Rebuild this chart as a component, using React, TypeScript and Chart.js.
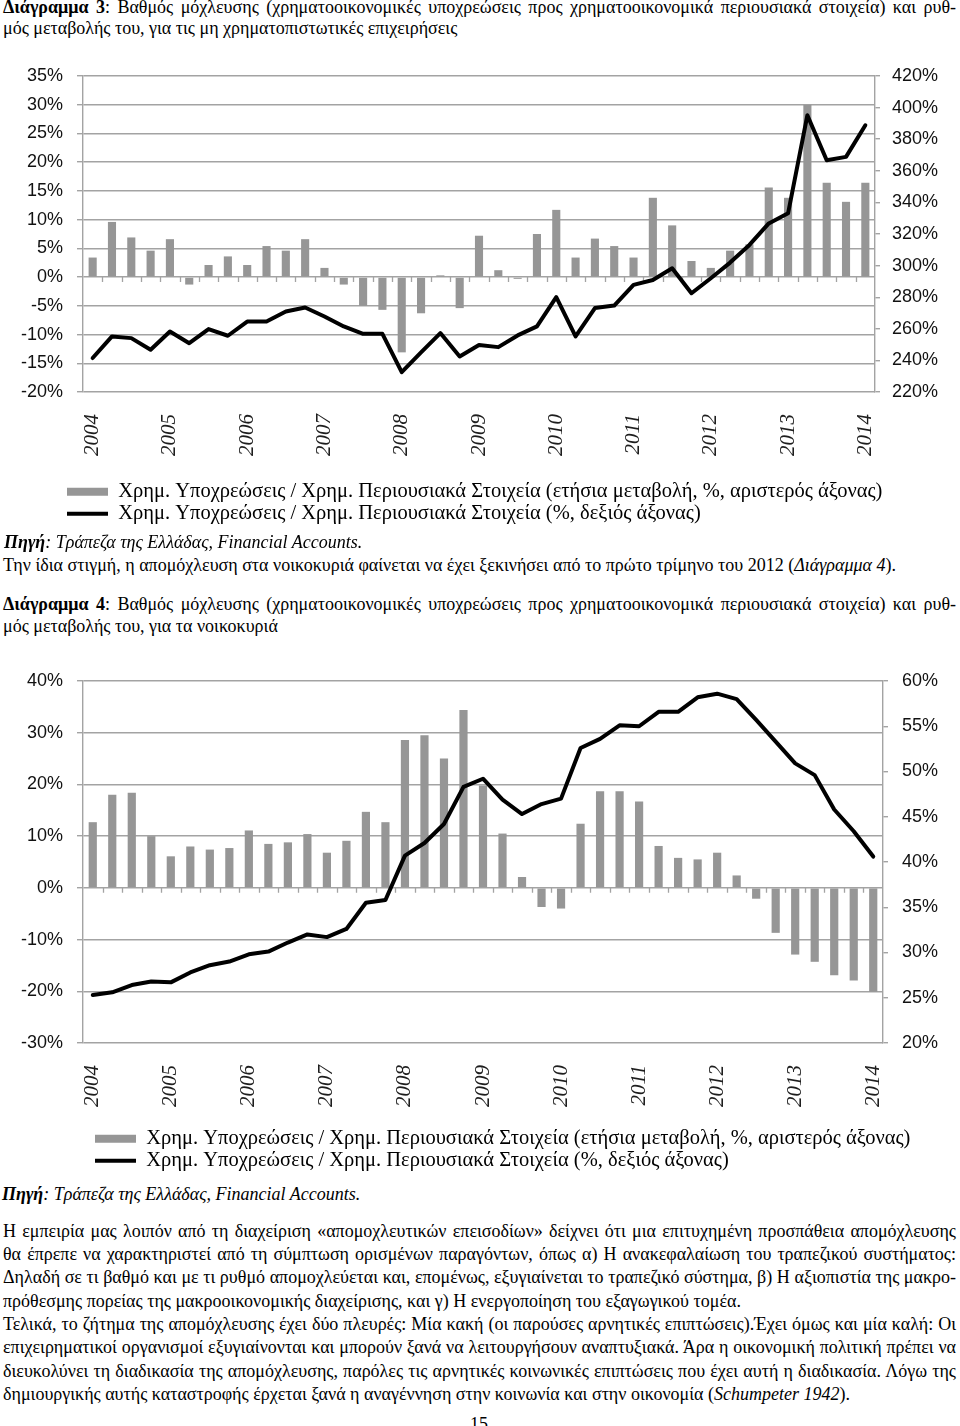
import React, { useEffect, useLayoutEffect, useRef } from 'react';
import { Chart, registerables } from 'chart.js';

Chart.register(...registerables);

// ---------- data ----------
const years = ['2004', '2005', '2006', '2007', '2008', '2009', '2010', '2011', '2012', '2013', '2014'];
const quarterNames = ['Q1', 'Q2', 'Q3', 'Q4'];
const quarterLabels = years.flatMap((y) => quarterNames.map((q) => `${y} ${q}`)).slice(0, 41);

// Διάγραμμα 3: μη χρηματοπιστωτικές επιχειρήσεις
const firmsChange = [3.4, 9.6, 6.9, 4.6, 6.6, -1.3, 2.1, 3.6, 2.1, 5.4, 4.6, 6.6, 1.6, -1.3, -5.0, -5.7, -13.1, -6.3, 0.3, -5.4,
  7.2, 1.2, -0.3, 7.5, 11.7, 3.4, 6.7, 5.4, 3.4, 13.8, 9.0, 2.8, 1.6, 4.6, 5.7, 15.6, 13.8, 30.0, 16.4, 13.1, 16.4];
const firmsLevel = [241.5, 255.2, 254.1, 246.7, 258.3, 250.9, 259.8, 255.6, 264.6, 264.6, 270.9, 273.5, 267.8, 261.5, 256.8, 256.8,
  232.6, 245.1, 257.3, 242.5, 249.7, 248.4, 255.8, 261.5, 280.0, 255.2, 273.1, 274.7, 287.8, 290.9, 298.3, 282.5, 292.0, 301.9,
  313.1, 326.7, 333.1, 395.2, 366.7, 368.8, 388.8];

// Διάγραμμα 4: νοικοκυριά
const householdsChange = [12.7, 18.0, 18.4, 10.0, 6.1, 8.0, 7.4, 7.7, 11.1, 8.5, 8.8, 10.4, 6.8, 9.1, 14.7, 12.7, 28.6, 29.5, 25.0, 34.4,
  19.8, 10.5, 2.1, -3.7, -4.0, 12.4, 18.7, 18.7, 16.7, 8.1, 5.8, 5.5, 6.8, 2.4, -2.1, -8.7, -12.9, -14.3, -16.9, -17.9, -20.1];
const householdsLevel = [25.3, 25.6, 26.4, 26.8, 26.7, 27.8, 28.6, 29.0, 29.8, 30.1, 31.1, 32.0, 31.7, 32.6, 35.5, 35.8, 40.7, 42.1,
  44.2, 48.3, 49.2, 46.9, 45.3, 46.4, 47.0, 52.6, 53.6, 55.1, 55.0, 56.6, 56.6, 58.2, 58.6, 58.0, 55.7, 53.3, 50.9, 49.6, 45.8,
  43.4, 40.6];

const legendBarLabel = 'Χρημ. Υποχρεώσεις / Χρημ. Περιουσιακά Στοιχεία (ετήσια μεταβολή, %, αριστερός άξονας)';
const legendLineLabel = 'Χρημ. Υποχρεώσεις / Χρημ. Περιουσιακά Στοιχεία (%, δεξιός άξονας)';

// axis ranges [min, max, step]
const firmsLeftAxis = [-20, 35, 5];
const firmsRightAxis = [220, 420, 20];
const householdsLeftAxis = [-30, 40, 10];
const householdsRightAxis = [20, 60, 5];

// ---------- styles ----------
const GRID = '#a3a3a3';
const BAR = '#969696';
const SERIF = '"Liberation Serif", "Times New Roman", serif';
const SANS = '"Liberation Sans", Arial, sans-serif';
const TEXT_SIZE = 18;
const LINE_W = 4;

const pagePlugin = {
  id: 'pageTweaks',
  afterLayout(chart: any, _args: any, opts: any) {
    const lg = chart.legend;
    if (lg && opts && opts.legendX != null) {
      const pad = lg.options.labels.padding;
      const dx = opts.legendX - pad - lg.left;
      lg.left += dx;
      lg.right += dx;
    }
  },
  beforeDatasetsDraw(chart: any, _args: any, opts: any) {
    const x = chart.scales.x;
    const y = chart.scales.y;
    const y0 = y.getPixelForValue(0);
    const ctx = chart.ctx;
    ctx.save();
    ctx.strokeStyle = (opts && opts.tickColor) || GRID;
    ctx.lineWidth = 1.3;
    ctx.beginPath();
    for (let i = 1; i < x.ticks.length; i++) {
      const px = Math.round((x.getPixelForValue(i - 1) + x.getPixelForValue(i)) / 2) + 0.5;
      ctx.moveTo(px, y0);
      ctx.lineTo(px, y0 + 5);
    }
    ctx.stroke();
    ctx.restore();
  },
};

type ComboProps = {
  top: number;
  height: number;
  bars: number[];
  line: number[];
  leftAxis: number[];
  rightAxis: number[];
  rightWidth: number;
  rightPad: number;
  xHeight: number;
  legendX: number;
};

function ComboChart(p: ComboProps) {
  const ref = useRef<HTMLCanvasElement>(null);
  useEffect(() => {
    const pct = (v: any) => `${v}%`;
    const tickFont = { family: SANS, size: 18 };
    const chart = new Chart(ref.current as HTMLCanvasElement, {
      type: 'bar',
      data: {
        labels: quarterLabels,
        datasets: [
          {
            type: 'bar',
            label: legendBarLabel,
            data: p.bars,
            backgroundColor: BAR,
            borderWidth: 0,
            barPercentage: 0.42,
            categoryPercentage: 1,
            yAxisID: 'y',
            order: 1,
            pointStyle: 'rect',
          } as any,
          {
            type: 'line',
            label: legendLineLabel,
            data: p.line,
            borderColor: '#000',
            backgroundColor: '#000',
            borderWidth: LINE_W,
            pointRadius: 0,
            tension: 0,
            yAxisID: 'y2',
            order: 0,
            pointStyle: 'line',
            borderJoinStyle: 'round',
            borderCapStyle: 'round',
          } as any,
        ],
      },
      options: {
        responsive: false,
        animation: false,
        layout: { padding: { top: 26, left: 0, right: 0, bottom: 0 } },
        plugins: {
          tooltip: { enabled: false },
          legend: {
            position: 'bottom',
            align: 'start',
            labels: {
              usePointStyle: true,
              pointStyleWidth: 41,
              boxHeight: 8,
              padding: 1.5,
              color: '#000',
              font: { family: SERIF, size: 20.5 },
              generateLabels: (chart: any) => {
                const items = (Chart.defaults.plugins.legend.labels as any).generateLabels(chart);
                return items
                  .sort((a: any, b: any) => a.datasetIndex - b.datasetIndex)
                  .map((it: any) => ({
                    ...it,
                    pointStyle: it.datasetIndex === 0 ? 'rect' : 'line',
                    lineWidth: it.datasetIndex === 0 ? 0 : LINE_W,
                    fontColor: '#000',
                  }));
              },
            },
          },
          pageTweaks: { legendX: p.legendX, tickColor: GRID },
        } as any,
        scales: {
          x: {
            grid: { display: false, drawTicks: false },
            border: { display: false },
            ticks: {
              autoSkip: false,
              minRotation: 90,
              maxRotation: 90,
              padding: 22,
              color: '#1e1e1e',
              font: { family: SERIF, size: 21, style: 'italic' },
              callback: (_v: any, i: number) => (i % 4 === 0 ? years[i / 4] : ''),
            },
            afterFit: (s: any) => {
              s.height = p.xHeight;
            },
          },
          y: {
            position: 'left',
            min: p.leftAxis[0],
            max: p.leftAxis[1],
            ticks: { stepSize: p.leftAxis[2], callback: pct, padding: 14, color: '#111', font: tickFont },
            grid: { color: GRID, lineWidth: 1.4, tickLength: 6 },
            border: { display: true, color: GRID, width: 1.4 },
            afterFit: (s: any) => {
              s.width = 83;
            },
          },
          y2: {
            position: 'right',
            min: p.rightAxis[0],
            max: p.rightAxis[1],
            ticks: { stepSize: p.rightAxis[2], callback: pct, padding: p.rightPad, color: '#111', font: tickFont },
            grid: { drawOnChartArea: false, color: GRID, lineWidth: 1.4, tickLength: 5 },
            border: { display: true, color: GRID, width: 1.4 },
            afterFit: (s: any) => {
              s.width = p.rightWidth;
            },
          },
        },
      } as any,
      plugins: [pagePlugin as any],
    });
    return () => chart.destroy();
  }, []);
  return (
    <canvas
      ref={ref}
      width={960}
      height={p.height}
      style={{ position: 'absolute', left: 0, top: p.top, width: 960, height: p.height }}
    />
  );
}

type LineProps = {
  baseline: number;
  justify?: boolean;
  left?: number;
  width?: number;
  size?: number;
  children: React.ReactNode;
  style?: React.CSSProperties;
};

function TextLine({ baseline, justify = false, left = 3, width = 953, size = TEXT_SIZE, children, style }: LineProps) {
  const ref = useRef<HTMLSpanElement>(null);
  useLayoutEffect(() => {
    const el = ref.current;
    if (!el || !justify) return;
    el.style.wordSpacing = '0px';
    const natural = el.getBoundingClientRect().width;
    const spaces = ((el.textContent || '').match(/ /g) || []).length;
    if (spaces > 0) el.style.wordSpacing = `${(width - natural) / spaces}px`;
  });
  return (
    <div
      style={{
        position: 'absolute',
        left,
        top: baseline - 0.8375 * size,
        fontSize: size,
        lineHeight: `${size}px`,
        whiteSpace: 'nowrap',
        fontFamily: SERIF,
        color: '#000',
        ...style,
      }}
    >
      <span ref={ref}>{children}</span>
    </div>
  );
}

export default function App() {
  return (
    <div
      style={{
        position: 'absolute',
        left: 0,
        top: 0,
        width: 960,
        height: 1426,
        overflow: 'hidden',
        background: '#fff',
      }}
    >
      <TextLine baseline={13} justify>
        <b>Διάγραμμα 3</b>: Βαθμός μόχλευσης (χρηματοοικονομικές υποχρεώσεις προς χρηματοοικονομικά περιουσιακά στοιχεία) και ρυθ-
      </TextLine>
      <TextLine baseline={34}>μός μεταβολής του, για τις μη χρηματοπιστωτικές επιχειρήσεις</TextLine>

      <ComboChart
        top={50}
        height={484}
        bars={firmsChange}
        line={firmsLevel}
        leftAxis={firmsLeftAxis}
        rightAxis={firmsRightAxis}
        rightWidth={85}
        rightPad={12}
        xHeight={88}
        legendX={67}
      />

      <TextLine baseline={548} left={4}>
        <i>
          <b>Πηγή</b>: Τράπεζα της Ελλάδας, Financial Accounts.
        </i>
      </TextLine>
      <TextLine baseline={571}>
        Την ίδια στιγμή, η απομόχλευση στα νοικοκυριά φαίνεται να έχει ξεκινήσει από το πρώτο τρίμηνο του 2012 (<i>Διάγραμμα 4</i>).
      </TextLine>

      <TextLine baseline={610} justify>
        <b>Διάγραμμα 4</b>: Βαθμός μόχλευσης (χρηματοοικονομικές υποχρεώσεις προς χρηματοοικονομικά περιουσιακά στοιχεία) και ρυθ-
      </TextLine>
      <TextLine baseline={632}>μός μεταβολής του, για τα νοικοκυριά</TextLine>

      <ComboChart
        top={655}
        height={526}
        bars={householdsChange}
        line={householdsLevel}
        leftAxis={householdsLeftAxis}
        rightAxis={householdsRightAxis}
        rightWidth={77}
        rightPad={14}
        xHeight={84}
        legendX={95}
      />

      <TextLine baseline={1200} left={2}>
        <i>
          <b>Πηγή</b>: Τράπεζα της Ελλάδας, Financial Accounts.
        </i>
      </TextLine>

      <TextLine baseline={1237} justify>
        Η εμπειρία μας λοιπόν από τη διαχείριση «απομοχλευτικών επεισοδίων» δείχνει ότι μια επιτυχημένη προσπάθεια απομόχλευσης
      </TextLine>
      <TextLine baseline={1260} justify>
        θα έπρεπε να χαρακτηριστεί από τη σύμπτωση ορισμένων παραγόντων, όπως α) Η ανακεφαλαίωση του τραπεζικού συστήματος:
      </TextLine>
      <TextLine baseline={1283} justify>
        Δηλαδή σε τι βαθμό και με τι ρυθμό απομοχλεύεται και, επομένως, εξυγιαίνεται το τραπεζικό σύστημα, β) Η αξιοπιστία της μακρο-
      </TextLine>
      <TextLine baseline={1307}>
        πρόθεσμης πορείας της μακροοικονομικής διαχείρισης, και γ) Η ενεργοποίηση του εξαγωγικού τομέα.
      </TextLine>
      <TextLine baseline={1330} justify>
        Τελικά, το ζήτημα της απομόχλευσης έχει δύο πλευρές: Μία κακή (οι παρούσες αρνητικές επιπτώσεις).Έχει όμως και μία καλή: Οι
      </TextLine>
      <TextLine baseline={1353} justify>
        επιχειρηματικοί οργανισμοί εξυγιαίνονται και μπορούν ξανά να λειτουργήσουν αναπτυξιακά. Άρα η οικονομική πολιτική πρέπει να
      </TextLine>
      <TextLine baseline={1377} justify>
        διευκολύνει τη διαδικασία της απομόχλευσης, παρόλες τις αρνητικές κοινωνικές επιπτώσεις που έχει αυτή η διαδικασία. Λόγω της
      </TextLine>
      <TextLine baseline={1400}>
        δημιουργικής αυτής καταστροφής έρχεται ξανά η αναγέννηση στην κοινωνία και στην οικονομία (<i>Schumpeter 1942</i>).
      </TextLine>

      <TextLine baseline={1430} left={470}>
        15
      </TextLine>
    </div>
  );
}
